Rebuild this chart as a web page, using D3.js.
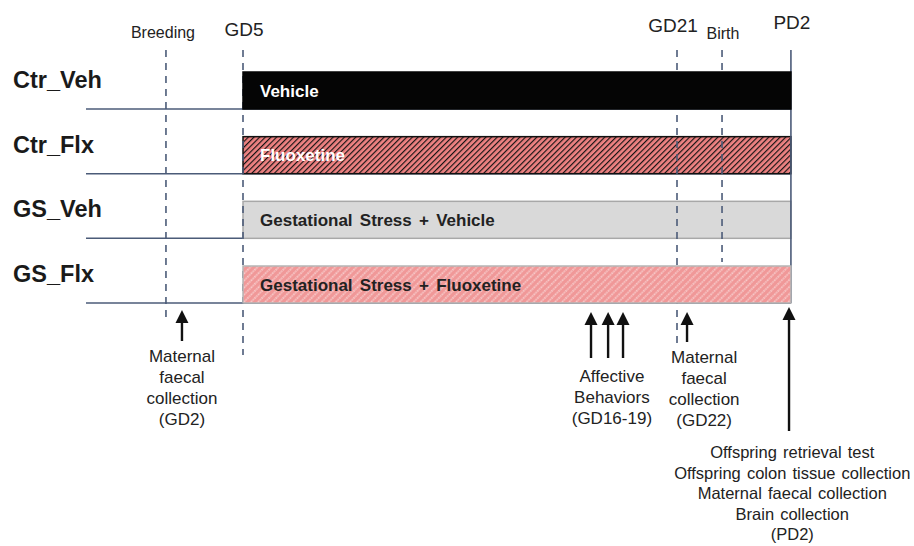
<!DOCTYPE html>
<html>
<head>
<meta charset="utf-8">
<script src="https://cdn.jsdelivr.net/npm/d3@7"></script>
<style>
  body { margin: 0; background: #fff; }
  svg { display: block; font-family: "Liberation Sans", Arial, sans-serif; }
</style>
</head>
<body>
<svg id="chart" width="914" height="546"></svg>
<script>
// groups and their treatment bars
const groups = ["Ctr_Veh", "Ctr_Flx", "GS_Veh", "GS_Flx"];
const treatments = ["Vehicle", "Fluoxetine", "Gestational Stress + Vehicle", "Gestational Stress + Fluoxetine"];
const treatStart = 5;     // GD5
const treatEnd = 25.2;    // PD2

// timeline markers (day positions read off the picture, not to scale)
const markerNames = ["Breeding", "GD5", "GD21", "Birth", "PD2"];
const markerDays = [2.16, 5, 21, 22.66, 25.2];

// sampling / test events (arrows)
const eventDays = [2.75, 17.83, 18.46, 19.01, 21.37, 25.13];
const eventLabels = [
  ["Maternal", "faecal", "collection", "(GD2)"],
  ["Affective", "Behaviors", "(GD16-19)"],
  ["Maternal", "faecal", "collection", "(GD22)"],
  ["Offspring retrieval test", "Offspring colon tissue collection", "Maternal faecal collection", "Brain collection", "(PD2)"]
];
const labelDays = [2.75, 18.6, 22.0, 25.25];

const width = 914, height = 546;
const lineColor = "#4b5b78";
const svg = d3.select("#chart");

//  scales ------------------------------------------//
const x = d3.scaleLinear().domain([5, 21]).range([243, 677]);
const y = d3.scalePoint().domain(groups).range([109, 303]);   // row baselines
const barH = 37;
const rowX0 = 86;

//  patterns ----------------------------------------//
const defs = svg.append("defs");
const pDark = defs.append("pattern")
  .attr("id", "hatchDark").attr("patternUnits", "userSpaceOnUse")
  .attr("width", 4).attr("height", 4).attr("patternTransform", "rotate(45)");
pDark.append("rect").attr("width", 4).attr("height", 4).attr("fill", "#ef8282");
pDark.append("line").attr("x1", 0.6).attr("y1", 0).attr("x2", 0.6).attr("y2", 4)
  .attr("stroke", "#111").attr("stroke-width", 1.15);

const pLight = defs.append("pattern")
  .attr("id", "hatchLight").attr("patternUnits", "userSpaceOnUse")
  .attr("width", 5).attr("height", 5).attr("patternTransform", "rotate(45)");
pLight.append("rect").attr("width", 5).attr("height", 5).attr("fill", "#f09898");
pLight.append("line").attr("x1", 1).attr("y1", 0).attr("x2", 1).attr("y2", 5)
  .attr("stroke", "#fde8e8").attr("stroke-width", 1.2).attr("stroke-dasharray", "1.2,1");

const barStyle = {
  Ctr_Veh: { fill: "#050505", stroke: "#050505", text: "#ffffff" },
  Ctr_Flx: { fill: "url(#hatchDark)", stroke: "#111", text: "#ffffff" },
  GS_Veh:  { fill: "#d9d9d9", stroke: "#a8a8a8", text: "#222" },
  GS_Flx:  { fill: "url(#hatchLight)", stroke: "#b5b5b5", text: "#222" }
};

//  row baselines -----------------------------------//
svg.append("g").selectAll("line").data(groups).join("line")
  .attr("x1", rowX0).attr("x2", x(treatEnd))
  .attr("y1", d => y(d)).attr("y2", d => y(d))
  .attr("stroke", lineColor).attr("stroke-width", 1.5);

//  row labels --------------------------------------//
svg.append("g").selectAll("text").data(groups).join("text")
  .attr("x", 13).attr("y", d => y(d) - 21)
  .attr("font-size", 23.5).attr("font-weight", "bold").attr("fill", "#1a1a1a")
  .text(d => d);

//  bars (some drawn below the dashed markers, some above) //
const below = ["Ctr_Flx", "GS_Veh"];
function drawBars(list) {
  const g = svg.append("g").selectAll("g").data(list).join("g");
  g.append("rect")
    .attr("x", x(treatStart)).attr("width", x(treatEnd) - x(treatStart))
    .attr("y", d => y(d) - barH).attr("height", barH)
    .attr("fill", d => barStyle[d].fill)
    .attr("stroke", d => barStyle[d].stroke).attr("stroke-width", 1.5);
  g.append("text")
    .attr("x", x(treatStart) + 17).attr("y", d => y(d) - barH / 2)
    .attr("dy", "0.36em")
    .attr("font-size", 17).attr("font-weight", "bold").attr("word-spacing", "2.5px")
    .attr("fill", d => barStyle[d].text)
    .text(d => treatments[groups.indexOf(d)]);
}
drawBars(below);

//  markers -----------------------------------------//
const markerBottom = { Breeding: 318, GD5: 355, GD21: 347, Birth: 262, PD2: 303 };
const markerLabelY = { Breeding: 38, GD5: 36, GD21: 32, Birth: 39, PD2: 29 };
const markers = markerNames.map((n, i) => ({ name: n, day: markerDays[i] }));

svg.append("g").selectAll("line").data(markers).join("line")
  .attr("x1", d => x(d.day)).attr("x2", d => x(d.day))
  .attr("y1", 50).attr("y2", d => markerBottom[d.name])
  .attr("stroke", lineColor).attr("stroke-width", 1.6)
  .attr("stroke-dasharray", d => d.name === "PD2" ? null : "7,6");

svg.append("g").selectAll("text").data(markers).join("text")
  .attr("x", d => x(d.day) + (d.name === "Breeding" ? -3 : d.name === "GD21" ? -4 : 1))
  .attr("y", d => markerLabelY[d.name])
  .attr("text-anchor", "middle")
  .attr("font-size", d => d.name.startsWith("GD") || d.name === "PD2" ? 19 : 16)
  .attr("fill", "#222")
  .text(d => d.name);

drawBars(groups.filter(g => !below.includes(g)));

//  arrows ------------------------------------------//
const arrowTail = [341, 358, 358, 358, 342, 431];
const arrowTip = [310, 312, 312, 312, 312, 307];
const arrows = svg.append("g").selectAll("g").data(eventDays).join("g");
arrows.append("line")
  .attr("x1", d => x(d)).attr("x2", d => x(d))
  .attr("y1", (d, i) => arrowTail[i]).attr("y2", (d, i) => arrowTip[i] + 10)
  .attr("stroke", "#111").attr("stroke-width", 2.4);
arrows.append("path")
  .attr("d", (d, i) => `M${x(d)},${arrowTip[i]} L${x(d) - 6.5},${arrowTip[i] + 13} L${x(d) + 6.5},${arrowTip[i] + 13} Z`)
  .attr("fill", "#111");

//  event labels ------------------------------------//
const labelTop = [362, 382, 363, 458];
const labelStep = [21, 21, 21, 20.5];
const labelSize = [17, 17, 17, 16.5];
eventLabels.forEach((lines, i) => {
  svg.append("text")
    .attr("text-anchor", "middle")
    .attr("font-size", labelSize[i]).attr("fill", "#222").attr("word-spacing", "1.5px")
    .selectAll("tspan").data(lines).join("tspan")
    .attr("x", x(labelDays[i]))
    .attr("y", (d, k) => labelTop[i] + k * labelStep[i])
    .text(d => d);
});
</script>
</body>
</html>
